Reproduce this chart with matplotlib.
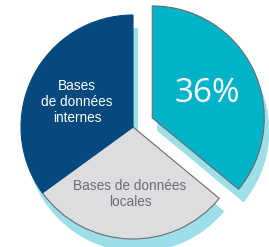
import matplotlib
matplotlib.use('Agg')
import matplotlib.pyplot as plt

# slice shares (percent), clockwise from 12 o'clock
labels = ['36%', 'Bases de données\nlocales', 'Bases\nde données\ninternes']
values = [36, 29, 35]
colors = ['#00b3c9', '#dcdddf', '#05497e']
edges = ['#6b6b6b', '#6b6b6b', '#05497e']
explode = [0.19, 0, 0]

W, H = 269, 247
fig = plt.figure(figsize=(W / 100, H / 100), dpi=100)
ax = fig.add_axes([0, 0, 1, 1])

cx, cy, r = 133, 120, 112
# pie offsets exploded wedges in data units, so scale by the radius
expl = [e * r for e in explode]

# light cyan shadow behind the pie
ax.pie(values, explode=expl, startangle=90, counterclock=False,
       colors=['#9ddfe9'] * 3, center=(cx + 5, cy - 13), radius=r,
       wedgeprops=dict(linewidth=0), frame=True)

wedges, _ = ax.pie(values, explode=expl, startangle=90, counterclock=False,
                   colors=colors, center=(cx, cy), radius=r,
                   wedgeprops=dict(linewidth=0.8), frame=True)
for w, ec in zip(wedges, edges):
    w.set_edgecolor(ec)

ax.set_xlim(0, W)
ax.set_ylim(0, H)
ax.set_aspect('equal')
ax.axis('off')

ax.text(207, 153, labels[0], color='white', fontsize=24, family='Open Sans',
        ha='center', va='center')
ax.text(130, 53, labels[1], color='#6d6e71', fontsize=9.8, family='Liberation Sans',
        ha='center', va='center', linespacing=1.1)
ax.text(77, 145, labels[2], color='white', fontsize=9.8, family='Liberation Sans',
        ha='center', va='center', linespacing=1.15)

plt.savefig('out.png', dpi=100)
